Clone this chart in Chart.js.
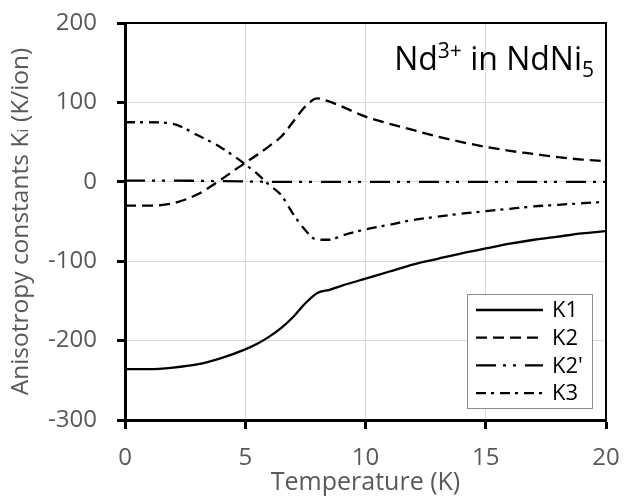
<!DOCTYPE html>
<html>
<head>
<meta charset="utf-8">
<script src="https://cdn.jsdelivr.net/npm/chart.js@4/dist/chart.umd.min.js"></script>
<style>
html,body{margin:0;padding:0;background:#fff;}
#wrap{width:626px;height:498px;position:relative;}
</style>
</head>
<body>
<div id="wrap"><canvas id="c" width="626" height="498"></canvas></div>
<script>
// Temperature (K)
const temperature = [0,1,2,3,4,5,5.5,6,6.5,7,7.5,8,8.5,9,10,11,12,13,14,15,16,17,18,19,20];
// Anisotropy constants (K/ion)
const K1  = [-236,-236,-234,-230,-222,-211,-204,-195,-184,-170,-153,-140,-136,-131,-122,-113,-104,-97,-90,-84,-78,-73,-69,-65,-62];
const K2  = [-30,-30,-27,-16,3,24,34,45,57,76,95,105,101,95,82,73,65,57,50,44,39,35,31,28,26];
const K2p = [1.5,1.5,1.5,1.2,0.8,0.4,0.2,0,0,0,0,0,0,0,0,0,0,0,0,0,0,0,0,0,0];
const K3  = [75,75,73,59,43,22,10,-4,-17,-41,-61,-73,-73,-68,-60,-54,-48,-44,-40,-37,-34,-31,-29,-27,-25];
const seriesLabels = ['K1','K2',"K2'",'K3'];
const xTicks = [0,5,10,15,20];
const yTicks = [-300,-200,-100,0,100,200];

const FONT = '"Open Sans", "DejaVu Sans", sans-serif';
const pts = arr => arr.map((v,i)=>({x:temperature[i], y:v}));
const dashes = [[], [11,6], [20,7,3,7,3,9], [10,5,3,6]];
const seriesData = [K1,K2,K2p,K3];

const datasets = seriesData.map((d,i)=>({
  label: seriesLabels[i],
  data: pts(d),
  borderColor:'#000',
  borderWidth:2.3,
  borderDash:dashes[i],
  pointRadius:0,
  fill:false,
  cubicInterpolationMode:'monotone'
}));

const framePlugin = {
  id:'frame',
  afterDraw(chart){
    const {ctx, chartArea:a} = chart;
    ctx.save();
    ctx.strokeStyle='#000';
    ctx.lineWidth=2;
    ctx.beginPath();
    ctx.moveTo(a.left, a.top); ctx.lineTo(a.right, a.top); ctx.lineTo(a.right, a.bottom);
    ctx.stroke();

    // annotation text: Nd3+ in NdNi5
    const big = 32, small = 21;
    const parts = [
      {t:'Nd', s:big, dy:0},
      {t:'3+', s:small, dy:-12},
      {t:' in NdNi', s:big, dy:0},
      {t:'5', s:small, dy:7}
    ];
    let total = 0;
    parts.forEach(p=>{ctx.font = p.s+'px '+FONT; p.w = ctx.measureText(p.t).width; total += p.w;});
    let x = a.right - 12 - total;
    const base = a.top + 47;
    ctx.fillStyle='#000';
    ctx.textBaseline='alphabetic';
    ctx.textAlign='left';
    parts.forEach(p=>{ctx.font = p.s+'px '+FONT; ctx.fillText(p.t, x, base+p.dy); x += p.w;});

    // legend box
    const lw = 125, lh = 114;
    const lx = a.right - 14 - lw, ly = a.bottom - 12 - lh;
    ctx.fillStyle='#fff';
    ctx.fillRect(lx, ly, lw, lh);
    ctx.strokeStyle='#8c8c8c';
    ctx.lineWidth=1;
    ctx.strokeRect(lx+0.5, ly+0.5, lw, lh);
    ctx.font = '22px '+FONT;
    ctx.textBaseline='middle';
    chart.data.datasets.forEach((ds,i)=>{
      const y = ly + 16 + i*27.7;
      ctx.strokeStyle = ds.borderColor;
      ctx.lineWidth = ds.borderWidth;
      ctx.setLineDash(ds.borderDash);
      ctx.beginPath();
      ctx.moveTo(lx+9, y); ctx.lineTo(lx+76, y);
      ctx.stroke();
      ctx.setLineDash([]);
      ctx.fillStyle='#000';
      ctx.fillText(ds.label, lx+85, y+1);
    });
    ctx.restore();
  }
};

function make(){
  new Chart(document.getElementById('c'), {
    type:'line',
    data:{datasets},
    options:{
      responsive:false,
      animation:false,
      devicePixelRatio:1,
      layout:{padding:{top:23,right:20,bottom:0,left:0}},
      plugins:{legend:{display:false}, tooltip:{enabled:false}},
      scales:{
        x:{
          type:'linear', min:0, max:20,
          afterBuildTicks(s){ s.ticks = xTicks.map(v=>({value:v})); },
          afterFit(s){ s.height = 78; s.paddingLeft = 0; s.paddingRight = 0; },
          grid:{color:'#d9d9d9', lineWidth:1, tickColor:'#000', tickWidth:3, tickLength:9},
          border:{color:'#000', width:3},
          ticks:{color:'#595959', font:{family:FONT, size:24}, padding:15, maxRotation:0},
          title:{display:true, text:'Temperature (K)', color:'#595959', font:{family:FONT, size:25}, padding:{top:3,bottom:0}}
        },
        y:{
          type:'linear', min:-300, max:200,
          afterBuildTicks(s){ s.ticks = yTicks.map(v=>({value:v})); },
          afterFit(s){ s.width = 125; s.paddingTop = 0; s.paddingBottom = 0; },
          grid:{color:'#d9d9d9', lineWidth:1, tickColor:'#000', tickWidth:3, tickLength:8},
          border:{color:'#000', width:3},
          ticks:{color:'#595959', font:{family:FONT, size:24}, padding:20},
          title:{display:true, text:'Anisotropy constants Kᵢ (K/ion)', color:'#595959', font:{family:FONT, size:24.5}, padding:{top:6,bottom:0}}
        }
      }
    },
    plugins:[framePlugin]
  });
}
if (document.fonts && document.fonts.load) {
  Promise.all([document.fonts.load('24px "Open Sans"'), document.fonts.load('20px "Open Sans"')]).then(make, make);
} else make();
</script>
</body>
</html>
